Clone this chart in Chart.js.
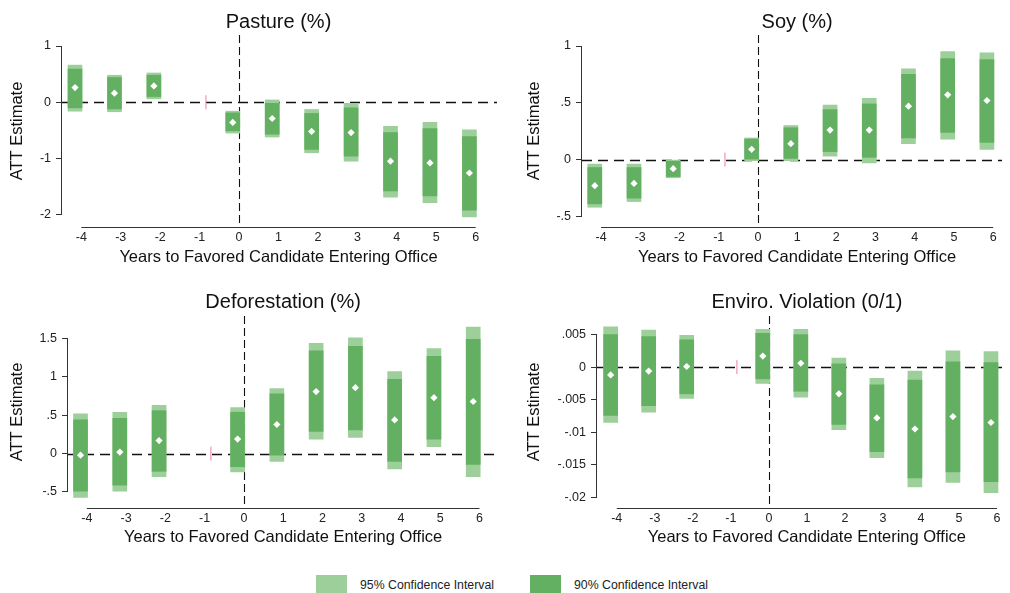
<!DOCTYPE html>
<html>
<head>
<meta charset="utf-8">
<script src="https://cdn.jsdelivr.net/npm/chart.js@4.4.1/dist/chart.umd.min.js"></script>
<style>
body { margin: 0; background: #fff; width: 1010px; height: 593px; position: relative; overflow: hidden; font-family: "Liberation Sans", Arial, sans-serif; }
canvas { position: absolute; }
.sw { position: absolute; top: 575px; width: 31px; height: 18px; }
.lt { position: absolute; top: 578px; font-size: 12.3px; line-height: 14px; color: #222; white-space: nowrap; }
</style>
</head>
<body>
<canvas id="c1" width="505" height="280" style="left:0;top:0"></canvas>
<canvas id="c2" width="505" height="280" style="left:505px;top:0"></canvas>
<canvas id="c3" width="505" height="280" style="left:0;top:280px"></canvas>
<canvas id="c4" width="505" height="280" style="left:505px;top:280px"></canvas>

<div class="sw" style="left:316px;background:#9ccf99"></div>
<span class="lt" style="left:360px">95% Confidence Interval</span>
<div class="sw" style="left:530px;background:#64b062"></div>
<span class="lt" style="left:574px">90% Confidence Interval</span>

<script>
// event-time periods (-1 is the omitted reference year)
const periods = [-4, -3, -2, 0, 1, 2, 3, 4, 5, 6];
const xTicks = [-4, -3, -2, -1, 0, 1, 2, 3, 4, 5, 6];
const refPeriod = -1;

// Pasture (%)
const pastureEst  = [0.26, 0.16, 0.29, -0.36, -0.29, -0.52, -0.54, -1.05, -1.08, -1.26];
const pastureHi95 = [0.66, 0.48, 0.52, -0.16, 0.04, -0.13, -0.02, -0.43, -0.36, -0.49];
const pastureHi90 = [0.59, 0.44, 0.48, -0.19, -0.02, -0.20, -0.10, -0.54, -0.47, -0.61];
const pastureLo90 = [-0.10, -0.12, 0.10, -0.51, -0.57, -0.84, -0.96, -1.58, -1.67, -1.92];
const pastureLo95 = [-0.16, -0.17, 0.06, -0.55, -0.62, -0.90, -1.05, -1.69, -1.79, -2.04];
const pastureYTicks = [1, 0, -1, -2];
const pastureYLabels = ['1', '0', '-1', '-2'];

// Soy (%)
const soyEst  = [-0.23, -0.21, -0.08, 0.09, 0.14, 0.26, 0.26, 0.47, 0.57, 0.52];
const soyHi95 = [-0.04, -0.04, -0.005, 0.19, 0.30, 0.48, 0.54, 0.80, 0.95, 0.94];
const soyHi90 = [-0.07, -0.07, -0.015, 0.18, 0.28, 0.44, 0.49, 0.75, 0.89, 0.88];
const soyLo90 = [-0.39, -0.34, -0.15, 0.00, 0.01, 0.07, 0.02, 0.19, 0.24, 0.15];
const soyLo95 = [-0.42, -0.37, -0.16, -0.01, -0.01, 0.03, -0.03, 0.14, 0.18, 0.09];
const soyYTicks = [1, 0.5, 0, -0.5];
const soyYLabels = ['1', '.5', '0', '-.5'];

// Deforestation (%)
const deforEst  = [-0.02, 0.02, 0.17, 0.19, 0.38, 0.81, 0.86, 0.44, 0.73, 0.68];
const deforHi95 = [0.52, 0.54, 0.63, 0.60, 0.85, 1.44, 1.51, 1.07, 1.37, 1.65];
const deforHi90 = [0.44, 0.46, 0.56, 0.54, 0.78, 1.34, 1.40, 0.97, 1.27, 1.49];
const deforLo90 = [-0.49, -0.41, -0.23, -0.17, -0.02, 0.29, 0.31, -0.10, 0.19, -0.14];
const deforLo95 = [-0.57, -0.49, -0.30, -0.24, -0.10, 0.19, 0.21, -0.20, 0.09, -0.30];
const deforYTicks = [1.5, 1, 0.5, 0, -0.5];
const deforYLabels = ['1.5', '1', '.5', '0', '-.5'];

// Enviro. Violation (0/1)
const violEst  = [-0.0012, -0.0006, 0.0001, 0.0017, 0.0006, -0.0041, -0.0078, -0.0095, -0.0076, -0.0085];
const violHi95 = [0.0062, 0.0057, 0.0049, 0.0058, 0.0058, 0.0014, -0.0017, -0.0006, 0.0025, 0.0024];
const violHi90 = [0.0050, 0.0047, 0.0042, 0.0052, 0.0050, 0.0005, -0.0027, -0.0020, 0.0008, 0.0007];
const violLo90 = [-0.0074, -0.0059, -0.0041, -0.0018, -0.0037, -0.0088, -0.0130, -0.0170, -0.0161, -0.0176];
const violLo95 = [-0.0085, -0.0069, -0.0048, -0.0025, -0.0046, -0.0096, -0.0139, -0.0184, -0.0177, -0.0193];
const violYTicks = [0.005, 0, -0.005, -0.01, -0.015, -0.02];
const violYLabels = ['.005', '0', '-.005', '-.01', '-.015', '-.02'];

const light = '#9ccf99';
const dark = '#64b062';
const refColor = '#e8829f';
const ink = '#222';
const barShift = -0.16;
const refShift = 0.16;

Chart.defaults.font.family = '"Liberation Sans", Arial, sans-serif';
Chart.defaults.color = ink;

// titles, dashed zero lines and Stata-style axis lines
const panelDecor = {
    id: 'panelDecor',
    beforeDatasetsDraw(chart, args, o) {
        const ctx = chart.ctx, a = chart.chartArea, x = chart.scales.x, y = chart.scales.y;
        ctx.save();
        ctx.strokeStyle = '#111';
        ctx.lineWidth = 1.3;
        ctx.setLineDash([10, 6]);
        const y0 = Math.round(y.getPixelForValue(0)) + 0.5;
        ctx.beginPath(); ctx.moveTo(a.left, y0); ctx.lineTo(a.right, y0); ctx.stroke();
        ctx.lineWidth = 1.1;
        ctx.setLineDash([8, 4]);
        const x0 = Math.round(x.getPixelForValue(0)) + 0.5;
        ctx.beginPath(); ctx.moveTo(x0, a.top); ctx.lineTo(x0, a.bottom); ctx.stroke();
        ctx.setLineDash([]);
        ctx.lineWidth = 1;
        ctx.strokeStyle = '#333';
        const yl = Math.round(a.left) - 0.5;
        ctx.beginPath();
        ctx.moveTo(yl, y.getPixelForValue(o.yTicks[0]));
        ctx.lineTo(yl, y.getPixelForValue(o.yTicks[o.yTicks.length - 1]));
        ctx.stroke();
        const xl = Math.round(a.bottom) + 0.5;
        ctx.beginPath();
        ctx.moveTo(x.getPixelForValue(xTicks[0]), xl);
        ctx.lineTo(x.getPixelForValue(xTicks[xTicks.length - 1]), xl);
        ctx.stroke();
        ctx.restore();
    },
    afterDraw(chart, args, o) {
        const ctx = chart.ctx, x = chart.scales.x;
        const mid = (x.getPixelForValue(xTicks[0]) + x.getPixelForValue(xTicks[xTicks.length - 1])) / 2;
        ctx.save();
        ctx.fillStyle = '#111';
        ctx.textAlign = 'center';
        ctx.textBaseline = 'middle';
        ctx.font = '20px "Liberation Sans", Arial, sans-serif';
        ctx.fillText(o.title, mid, 22);
        ctx.font = '16.5px "Liberation Sans", Arial, sans-serif';
        ctx.fillText('Years to Favored Candidate Entering Office', mid, 257);
        ctx.restore();
    }
};

function makePanel(id, p) {
    const H = 280, W = 505;
    const bars = (lo, hi) => periods.map((t, i) => ({ x: t + barShift, y: [lo[i], hi[i]] }));
    new Chart(document.getElementById(id), {
        type: 'bar',
        data: {
            datasets: [
                { label: '95% Confidence Interval', data: bars(p.lo95, p.hi95), backgroundColor: light,
                  borderWidth: 0, barThickness: 14, grouped: false, order: 2 },
                { label: '90% Confidence Interval', data: bars(p.lo90, p.hi90), backgroundColor: dark,
                  borderWidth: 0, barThickness: 14, grouped: false, order: 1 },
                { type: 'scatter', label: 'ATT', data: periods.map((t, i) => ({ x: t + barShift, y: p.est[i] })),
                  pointStyle: 'rectRot', pointRadius: 3.6, backgroundColor: '#fff', borderWidth: 0, order: 0 },
                { type: 'scatter', label: 'ref', data: [{ x: refPeriod + refShift, y: 0 }],
                  pointStyle: 'line', rotation: 90, pointRadius: 7, borderColor: refColor, borderWidth: 1, order: 3 }
            ]
        },
        options: {
            responsive: false,
            animation: false,
            devicePixelRatio: 1,
            layout: { padding: { left: 0, top: p.top, right: W - p.right, bottom: 0 } },
            plugins: {
                legend: { display: false },
                tooltip: { enabled: false },
                panelDecor: { title: p.title, yTicks: p.yTicks }
            },
            scales: {
                x: {
                    type: 'linear', offset: false, min: p.xMin, max: p.xMax,
                    grid: { display: false, drawTicks: false },
                    border: { display: false },
                    afterBuildTicks: s => { s.ticks = xTicks.map(v => ({ value: v })); },
                    afterFit: s => { s.height = H - p.bottom; },
                    ticks: { autoSkip: false, maxRotation: 0, padding: 3, font: { size: 12.5 }, color: ink,
                             callback: v => String(v) }
                },
                y: {
                    type: 'linear', min: p.yMin, max: p.yMax,
                    grid: { display: true, drawOnChartArea: false, drawTicks: true, tickLength: 6, color: '#333' },
                    border: { display: false },
                    afterBuildTicks: s => { s.ticks = p.yTicks.map(v => ({ value: v })); },
                    afterFit: s => { s.width = p.left; },
                    ticks: { autoSkip: false, padding: 5, font: { size: 12.5 }, color: ink,
                             callback: (v, i) => p.yLabels[i] },
                    title: { display: true, text: 'ATT Estimate', font: { size: 16.5 }, color: '#111',
                             padding: { top: p.titlePad, bottom: 0 } }
                }
            }
        },
        plugins: [panelDecor]
    });
}

makePanel('c1', {
    title: 'Pasture (%)', est: pastureEst, lo90: pastureLo90, hi90: pastureHi90, lo95: pastureLo95, hi95: pastureHi95,
    yTicks: pastureYTicks, yLabels: pastureYLabels,
    xMin: -4.49, xMax: 6.54, yMin: -2.221, yMax: 1.196,
    left: 62, right: 505, top: 35, bottom: 227, titlePad: 8
});
makePanel('c2', {
    title: 'Soy (%)', est: soyEst, lo90: soyLo90, hi90: soyHi90, lo95: soyLo95, hi95: soyHi95,
    yTicks: soyYTicks, yLabels: soyYLabels,
    xMin: -4.486, xMax: 6.225, yMin: -0.594, yMax: 1.097,
    left: 77, right: 505, top: 35, bottom: 227, titlePad: 20
});
makePanel('c3', {
    title: 'Deforestation (%)', est: deforEst, lo90: deforLo90, hi90: deforHi90, lo95: deforLo95, hi95: deforHi95,
    yTicks: deforYTicks, yLabels: deforYLabels,
    xMin: -4.479, xMax: 6.446, yMin: -0.709, yMax: 1.795,
    left: 68, right: 502, top: 36, bottom: 228, titlePad: 8
});
makePanel('c4', {
    title: 'Enviro. Violation (0/1)', est: violEst, lo90: violLo90, hi90: violHi90, lo95: violLo95, hi95: violHi95,
    yTicks: violYTicks, yLabels: violYLabels,
    xMin: -4.519, xMax: 6.13, yMin: -0.02164, yMax: 0.00786,
    left: 92, right: 502, top: 36, bottom: 228, titlePad: 20
});
</script>
</body>
</html>
